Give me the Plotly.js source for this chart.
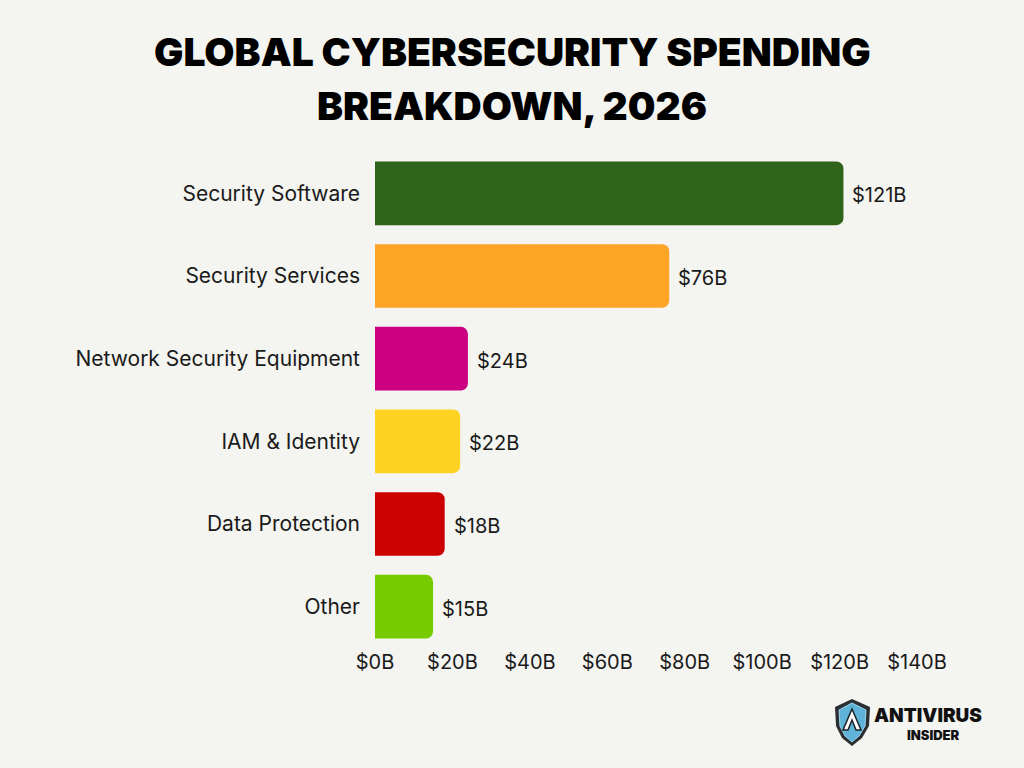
<!DOCTYPE html>
<html>
<head>
<meta charset="utf-8">
<script src="https://cdn.plot.ly/plotly-3.0.1.min.js"></script>
<style>
  html, body { margin: 0; padding: 0; background: #f4f4f0; }
  #chart { width: 1024px; height: 768px; }
</style>
</head>
<body>
<div id="chart"></div>
<script>
// Spending by segment, in billions of US dollars
const categories = ["Security Software", "Security Services", "Network Security Equipment", "IAM & Identity", "Data Protection", "Other"];
const spending = [121, 76, 24, 22, 18, 15];
const barColors = ["#2e6319", "#fea526", "#cc0080", "#fed321", "#cc0000", "#77cc00"];
const tickValues = [0, 20, 40, 60, 80, 100, 120, 140];
const tickLabels = ["$0B", "$20B", "$40B", "$60B", "$80B", "$100B", "$120B", "$140B"];
const valueLabels = spending.map(v => "$" + v + "B");
const titleLines = ["GLOBAL CYBERSECURITY SPENDING", "BREAKDOWN, 2026"];

const W = 1024, H = 768;
const margin = { l: 375, r: 107, t: 152, b: 120 };
const plotW = W - margin.l - margin.r;
const plotH = H - margin.t - margin.b;
// pixel -> paper coordinate helpers for the header and brand mark
const px = x => (x - margin.l) / plotW;
const py = y => (H - margin.b - y) / plotH;
function pathFrom(points) {
  return points.map((p, i) => (i ? "L" : "M") + px(p[0]).toFixed(4) + "," + py(p[1]).toFixed(4)).join(" ") + " Z";
}

const bodyFont = "Inter, 'Noto Sans', sans-serif";
const heavyFont = "Inter, 'DejaVu Sans', sans-serif";

const trace = {
  type: "bar",
  orientation: "h",
  y: categories,
  x: spending,
  marker: { color: barColors, line: { width: 0 } },
  hoverinfo: "skip"
};

const valueNotes = categories.map((c, i) => ({
  x: spending[i], y: c, xref: "x", yref: "y",
  text: valueLabels[i], showarrow: false,
  xanchor: "left", xshift: 7, yshift: -2,
  font: { family: bodyFont, size: 20, color: "#1a1a1a" }
}));

// two-line heading, centred on the page
const titleNotes = titleLines.map((t, i) => ({
  xref: "paper", yref: "paper", x: px(W / 2), y: py(i === 0 ? 51 : 106),
  xanchor: "center", yanchor: "middle", text: t, showarrow: false,
  font: { family: heavyFont, size: 39, weight: 900, color: "#000000", shadow: "none" }
}));

// brand mark (shield + wordmark)
const shieldOuter = [[835,707],[852,699],[870,707],[869,726],[862,738],[852,746],[842,738],[836,726]];
const shieldInner = [[839,710],[852,703],[866,710],[865,726],[859,736],[852,742],[845,736],[840,726]];
const glyphA = [[852,709],[861,730],[856,730],[852,720],[848,730],[843,730]];

const layout = {
  width: W, height: H,
  margin: margin,
  paper_bgcolor: "#f4f4f0",
  plot_bgcolor: "#f4f4f0",
  showlegend: false,
  bargap: 0.23,
  barcornerradius: 7,
  xaxis: {
    range: [0, 140],
    tickvals: tickValues,
    ticktext: tickLabels,
    showgrid: false, zeroline: false, showline: false,
    ticks: "",
    ticklabelstandoff: 0,
    tickfont: { family: bodyFont, size: 20, color: "#1a1a1a" },
    fixedrange: true
  },
  yaxis: {
    autorange: "reversed",
    showgrid: false, zeroline: false, showline: false,
    ticks: "",
    ticklabelstandoff: 14,
    tickfont: { family: bodyFont, size: 21, color: "#1a1a1a" },
    fixedrange: true
  },
  shapes: [
    { type: "path", xref: "paper", yref: "paper", path: pathFrom(shieldOuter), fillcolor: "#2b2f33", line: { width: 0 } },
    { type: "path", xref: "paper", yref: "paper", path: pathFrom(shieldInner), fillcolor: "#5fb3d9", line: { color: "#9fd6ee", width: 1 } },
    { type: "path", xref: "paper", yref: "paper", path: pathFrom(glyphA), fillcolor: "#ffffff", line: { color: "#1d2226", width: 1.5 } }
  ],
  annotations: valueNotes.concat(titleNotes, [
    { xref: "paper", yref: "paper", x: px(872), y: py(715), xanchor: "left", yanchor: "middle",
      text: "ANTIVIRUS", showarrow: false,
      font: { family: heavyFont, size: 19, weight: 900, color: "#111111" } },
    { xref: "paper", yref: "paper", x: px(933), y: py(735), xanchor: "center", yanchor: "middle",
      text: "INSIDER", showarrow: false,
      font: { family: heavyFont, size: 13, weight: 900, color: "#111111" } }
  ])
};

Plotly.newPlot("chart", [trace], layout, { displayModeBar: false, staticPlot: true });
</script>
</body>
</html>
